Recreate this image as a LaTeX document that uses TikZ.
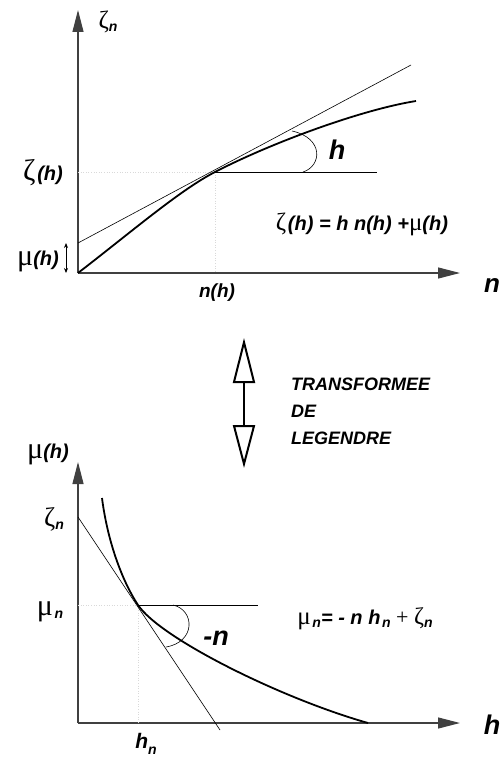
\documentclass[tikz,border=0pt]{standalone}
\usepackage{fontspec}
\setmainfont{Liberation Sans}
\newfontfamily\grk{Liberation Serif}
\usetikzlibrary{arrows.meta}
\newcommand\lowsub[1]{\raisebox{-0.3em}{\fontsize{14}{14}\selectfont\bfseries\itshape #1}}
\newcommand\bi[1]{{\bfseries\itshape #1}}
\newcommand\gz[1][30]{{\grk\fontsize{#1}{#1}\selectfont ζ}}
\newcommand\gm[1][30]{{\grk\fontsize{#1}{#1}\selectfont μ}}
\begin{document}
\begin{tikzpicture}[x=1pt,y=-1pt,
  axis/.style={line width=1.2pt, draw=black!75, -{Triangle[length=22pt,width=11pt]}},
  curv/.style={line width=1.8pt},
  thinl/.style={line width=0.6pt},
  guide/.style={line width=0.6pt, draw=black!15, dotted},
  lbl/.style={inner sep=0pt},
  bifont/.style={font=\fontsize{#1}{#1}\selectfont\bfseries\itshape},
]
\useasboundingbox (0,0) rectangle (499,760);
% ---------- top graph ----------
\coordinate (O1) at (78,273);
\coordinate (Y1) at (78,10);
\coordinate (X1) at (460,273);
\coordinate (T1) at (215,172);
\coordinate (H1) at (377,172);
\coordinate (L1a) at (78,243);
\coordinate (L1b) at (411,65);
\coordinate (C1e) at (416,101);
\coordinate (Z1) at (78,172);
\coordinate (N1) at (215,273);
\draw[axis] (O1) -- (Y1);
\draw[axis] (O1) -- (X1);
\draw[guide] (Z1) -- (T1);
\draw[guide] (T1) -- (N1);
\draw[thinl] (T1) -- (H1);
\draw[thinl] (L1a) -- (L1b);
\draw[curv] (O1) .. controls (130,233) and (180,190) .. (T1)
  .. controls (270,143.5) and (360,110) .. (C1e);
\draw[thinl] (303,172) .. controls (322,166) and (324,138) .. (292,131);
\coordinate (M1a) at (66,243);
\coordinate (M1b) at (66,273);
\draw[line width=0.8pt, {Stealth[length=5pt,width=4pt]}-{Stealth[length=5pt,width=4pt]}] (M1a) -- (M1b);
\node[lbl] (zn) at (108,22) {\gz[25]\lowsub{n}};
\node[lbl] (zh) at (43,173) {\gz\,\bi{\fontsize{20}{20}\selectfont (h)}};
\node[lbl] (mh) at (38,261) {\gm\bi{\fontsize{20}{20}\selectfont (h)}};
\node[lbl, bifont=19] (nh) at (217,293) {n(h)};
\node[lbl, bifont=27] (hl) at (337,150) {h};
\node[lbl, bifont=26] (nl) at (492,286) {n};
\node[lbl] (eq1) at (362,224)
  {\gz[25]\,\bi{\fontsize{20}{20}\selectfont(h) = h n(h) +}\gm[25]\bi{\fontsize{20}{20}\selectfont(h)}};
% ---------- transform arrow ----------
\coordinate (A1) at (244,338);
\coordinate (A2) at (244,468);
\draw[line width=2.5pt, {Triangle[open,length=45pt,width=22pt,line width=2pt]}-{Triangle[open,length=43pt,width=22pt,line width=2pt]}] (A1) -- (A2);
\node[lbl, anchor=north west, align=left, font=\fontsize{18}{27}\selectfont\bfseries\itshape] (tl) at (291,378) {TRANSFORMEE\\DE\\LEGENDRE};
% ---------- bottom graph ----------
\coordinate (O2) at (78,723);
\coordinate (Y2) at (78,462);
\coordinate (X2) at (460,723);
\coordinate (T2) at (138,605);
\coordinate (H2) at (258,605);
\coordinate (L2a) at (78,517);
\coordinate (L2b) at (220,730);
\coordinate (C2s) at (102,498);
\coordinate (C2e) at (368,723);
\coordinate (Z2) at (78,605);
\coordinate (N2) at (138,723);
\draw[axis] (O2) -- (Y2);
\draw[axis] (O2) -- (X2);
\draw[guide] (Z2) -- (T2);
\draw[guide] (T2) -- (N2);
\draw[thinl] (T2) -- (H2);
\draw[thinl] (L2a) -- (L2b);
\draw[curv] (C2s) .. controls (108,545) and (124,584) .. (T2)
  .. controls (160,638) and (280,698) .. (C2e);
\draw[thinl] (173,605) .. controls (195,610) and (196,642) .. (166,647);
\node[lbl] (mh2) at (48,454) {\gm\bi{\fontsize{20}{20}\selectfont (h)}};
\node[lbl] (zn2) at (54,519) {\gz[27]\lowsub{n}};
\node[lbl] (mn2) at (50,612) {\gm\,\lowsub{n}};
\node[lbl, bifont=27] (nl2) at (216,638) {-n};
\node[lbl, bifont=21] (hn) at (146,744) {h\lowsub{n}};
\node[lbl, bifont=27] (hl2) at (492,725) {h};
\node[lbl] (eq2) at (365,619)
  {\gm[25]\,\lowsub{n}\bi{\fontsize{20}{20}\selectfont= - n h}\,\lowsub{n}{\grk\fontsize{22}{22}\selectfont\ + }\gz[24]\lowsub{n}};
\end{tikzpicture}
\end{document}
